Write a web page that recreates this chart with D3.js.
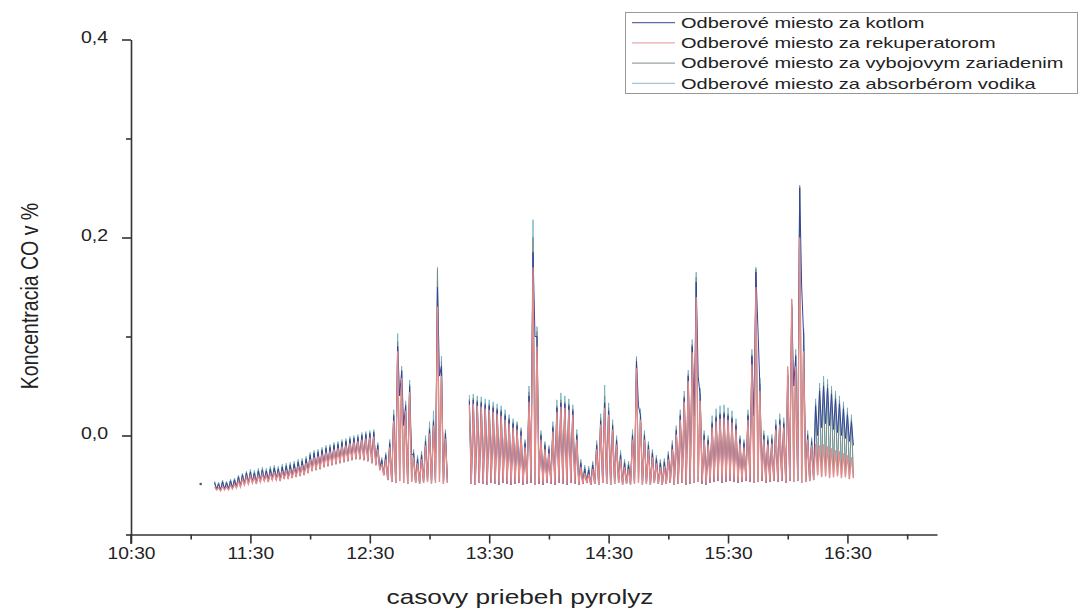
<!DOCTYPE html>
<html>
<head>
<meta charset="utf-8">
<script src="https://cdn.jsdelivr.net/npm/d3@7"></script>
<style>
  body { margin: 0; background: #fff; }
  svg { display: block; }
  text { font-family: "Liberation Sans", Arial, sans-serif; fill: #222; }
</style>
</head>
<body>
<div id="chart"></div>
<script>
// Sampling of the logger: one oscillation every 2 minutes, high value then low value
var sampleStart = "11:12";
var sampleStepMin = 2;

var seriesNames = [
    "Odberové miesto za kotlom",
    "Odberové miesto za rekuperatorom",
    "Odberové miesto za vybojovym zariadenim",
    "Odberové miesto za absorbérom vodika"
];

// Low readings between pulses (purge baseline), shared by the rekuperator, vyboj and absorber lines
var baselineLo = [
    -0.055,-0.056,-0.055,-0.055,-0.054,-0.053,-0.052,-0.050,-0.049,-0.048,
    -0.049,-0.047,-0.046,-0.047,-0.045,-0.045,-0.046,-0.044,-0.044,-0.043,
    -0.042,-0.041,-0.040,-0.038,-0.036,-0.035,-0.034,-0.032,-0.031,-0.030,
    -0.029,-0.028,-0.027,-0.026,-0.025,-0.024,-0.024,-0.025,-0.026,-0.028,-0.030,
    -0.035,-0.040,-0.045,-0.047,-0.048,-0.046,-0.048,-0.049,-0.047,-0.048,-0.049,-0.048,-0.047,-0.049,-0.048,-0.047,-0.049,-0.048,
    null,null,null,null,null,
    -0.049,-0.050,-0.048,-0.049,-0.050,-0.048,-0.049,-0.050,-0.048,-0.049,-0.050,-0.049,-0.048,-0.050,-0.049,
    -0.048,-0.050,-0.049,-0.050,-0.048,-0.049,-0.050,-0.048,-0.049,-0.050,-0.048,-0.049,
    -0.050,-0.049,-0.048,-0.050,-0.049,-0.050,-0.048,-0.049,-0.050,-0.049,-0.048,-0.050,-0.049,-0.050,
    -0.049,-0.048,-0.050,-0.049,-0.050,-0.048,-0.049,-0.050,-0.049,-0.048,-0.050,-0.049,-0.048,-0.050,-0.049,-0.048,-0.047,-0.049,-0.050,-0.048,
    -0.047,-0.046,-0.048,-0.047,-0.046,-0.047,-0.048,-0.047,-0.046,-0.047,-0.048,-0.047,-0.046,-0.048,-0.047,-0.046,-0.047,-0.046,-0.048,
    -0.046,-0.047,-0.046,-0.048,-0.047,-0.046,-0.045,
    -0.040,-0.042,-0.041,-0.043,-0.042,-0.041,-0.043,-0.042,-0.044,-0.043
];

// Odberové miesto za kotlom
var kotlomHi = [
    -0.048,-0.049,-0.047,-0.048,-0.046,-0.045,-0.042,-0.040,-0.038,-0.037,
    -0.038,-0.036,-0.035,-0.036,-0.034,-0.033,-0.034,-0.032,-0.031,-0.030,
    -0.029,-0.027,-0.026,-0.024,-0.020,-0.018,-0.017,-0.015,-0.013,-0.012,
    -0.010,-0.009,-0.007,-0.006,-0.004,-0.003,-0.002,0.000,0.001,0.002,0.003,
    -0.010,-0.025,-0.020,-0.008,0.020,0.090,0.065,0.030,0.050,-0.018,-0.024,-0.020,-0.006,0.006,0.014,0.150,0.070,0.002,
    null,null,null,null,null,
    0.035,0.036,0.034,0.033,0.031,0.030,0.028,0.026,0.024,0.020,0.016,0.012,0.010,0.004,-0.008,
    0.040,0.185,0.100,0.000,-0.010,-0.014,0.008,0.028,0.033,0.032,0.030,0.025,
    0.000,-0.028,-0.034,-0.035,-0.030,-0.010,0.015,0.033,0.025,0.010,-0.005,-0.020,-0.028,-0.030,
    0.000,0.075,0.020,0.000,-0.010,-0.018,-0.024,-0.028,-0.027,-0.020,-0.010,0.005,0.020,0.038,0.060,0.090,0.155,0.040,0.000,-0.005,
    0.012,0.018,0.021,0.022,0.020,0.017,0.010,-0.004,-0.008,0.020,0.080,0.165,0.050,0.000,-0.005,-0.004,0.010,0.015,0.012,
    0.060,0.130,0.080,0.250,0.100,0.000,-0.006,
    0.030,0.045,0.050,0.048,0.042,0.037,0.032,0.027,0.021,0.014
];
var kotlomLo = [
    -0.054,-0.055,-0.054,-0.054,-0.053,-0.052,-0.051,-0.049,-0.048,-0.047,
    -0.048,-0.046,-0.045,-0.046,-0.044,-0.044,-0.045,-0.043,-0.043,-0.042,
    -0.041,-0.040,-0.039,-0.037,-0.035,-0.034,-0.033,-0.031,-0.030,-0.029,
    -0.028,-0.027,-0.026,-0.025,-0.024,-0.023,-0.023,-0.024,-0.025,-0.027,-0.029,
    -0.034,-0.040,-0.045,-0.047,-0.048,0.040,0.010,-0.049,-0.020,-0.048,-0.049,-0.048,-0.047,-0.049,-0.048,0.060,-0.049,-0.048,
    null,null,null,null,null,
    -0.049,-0.050,-0.048,-0.049,-0.050,-0.048,-0.049,-0.050,-0.048,-0.049,-0.050,-0.049,-0.048,-0.050,-0.049,
    -0.048,0.100,-0.049,-0.050,-0.048,-0.049,-0.050,-0.048,-0.049,-0.050,-0.048,-0.049,
    -0.050,-0.049,-0.048,-0.050,-0.049,-0.050,-0.048,-0.049,-0.050,-0.049,-0.048,-0.050,-0.049,-0.050,
    -0.049,0.030,-0.050,-0.049,-0.050,-0.048,-0.049,-0.050,-0.049,-0.048,-0.050,-0.049,-0.048,-0.050,-0.049,0.020,0.060,-0.049,-0.050,-0.048,
    -0.047,-0.046,-0.048,-0.047,-0.046,-0.047,-0.048,-0.047,-0.046,-0.047,0.020,0.110,-0.046,-0.048,-0.047,-0.046,-0.047,-0.046,-0.048,
    -0.046,0.050,-0.046,0.150,-0.047,-0.046,-0.045,
    0.000,0.008,0.012,0.010,0.006,0.003,0.000,-0.003,-0.006,-0.010
];

// Odberové miesto za rekuperatorom
var rekupHi = [
    -0.052,-0.053,-0.051,-0.052,-0.050,-0.049,-0.046,-0.044,-0.042,-0.041,
    -0.042,-0.040,-0.039,-0.040,-0.038,-0.037,-0.038,-0.036,-0.035,-0.034,
    -0.033,-0.031,-0.030,-0.028,-0.024,-0.022,-0.021,-0.019,-0.017,-0.016,
    -0.014,-0.013,-0.011,-0.010,-0.008,-0.007,-0.006,-0.004,-0.003,-0.002,-0.001,
    -0.014,-0.029,-0.024,-0.012,0.015,0.085,0.058,0.025,0.044,-0.022,-0.028,-0.024,-0.010,0.002,0.010,0.130,0.060,-0.003,
    null,null,null,null,null,
    0.031,0.032,0.030,0.029,0.027,0.026,0.024,0.022,0.020,0.016,0.012,0.008,0.006,0.000,-0.012,
    0.034,0.170,0.090,-0.004,-0.014,-0.018,0.004,0.024,0.029,0.028,0.026,0.021,
    -0.004,-0.032,-0.038,-0.039,-0.034,-0.014,0.011,0.028,0.021,0.006,-0.009,-0.024,-0.032,-0.034,
    -0.004,0.068,0.016,-0.004,-0.014,-0.022,-0.028,-0.032,-0.031,-0.024,-0.014,0.001,0.016,0.034,0.055,0.084,0.140,0.035,-0.004,-0.009,
    0.008,0.014,0.017,0.018,0.016,0.013,0.006,-0.008,-0.012,0.016,0.072,0.150,0.045,-0.004,-0.009,-0.008,0.006,0.011,0.008,
    0.070,0.138,0.070,0.200,0.085,-0.004,-0.010,
    -0.008,-0.010,-0.009,-0.011,-0.013,-0.015,-0.016,-0.018,-0.020,-0.022
];

// Odberové miesto za vybojovym zariadenim
var vybojHi = [
    -0.047,-0.048,-0.046,-0.047,-0.045,-0.044,-0.041,-0.039,-0.037,-0.036,
    -0.037,-0.035,-0.034,-0.035,-0.033,-0.032,-0.033,-0.031,-0.030,-0.029,
    -0.028,-0.026,-0.025,-0.023,-0.019,-0.017,-0.016,-0.014,-0.012,-0.011,
    -0.009,-0.008,-0.006,-0.005,-0.003,-0.002,-0.001,0.001,0.002,0.003,0.004,
    -0.009,-0.024,-0.019,-0.006,0.022,0.095,0.066,0.032,0.052,-0.016,-0.022,-0.018,-0.004,0.008,0.016,0.168,0.075,0.004,
    null,null,null,null,null,
    0.037,0.038,0.036,0.035,0.033,0.032,0.030,0.028,0.026,0.022,0.018,0.014,0.012,0.006,-0.006,
    0.044,0.200,0.105,0.002,-0.008,-0.012,0.010,0.030,0.036,0.034,0.032,0.027,
    0.002,-0.026,-0.032,-0.033,-0.028,-0.008,0.018,0.040,0.028,0.012,-0.003,-0.018,-0.026,-0.028,
    0.002,0.078,0.022,0.002,-0.008,-0.016,-0.022,-0.026,-0.025,-0.018,-0.008,0.007,0.022,0.040,0.062,0.092,0.160,0.042,0.002,-0.003,
    0.014,0.020,0.023,0.024,0.022,0.019,0.012,-0.002,-0.006,0.022,0.082,0.168,0.052,0.002,-0.003,-0.002,0.012,0.017,0.014,
    0.062,0.133,0.082,0.252,0.104,0.002,-0.004,
    0.033,0.048,0.054,0.052,0.046,0.041,0.036,0.030,0.024,0.017
];

// Odberové miesto za absorbérom vodika
var absorbHi = [
    -0.046,-0.047,-0.045,-0.046,-0.044,-0.043,-0.040,-0.038,-0.036,-0.034,
    -0.035,-0.033,-0.032,-0.033,-0.031,-0.030,-0.031,-0.029,-0.028,-0.027,
    -0.026,-0.024,-0.023,-0.021,-0.017,-0.015,-0.014,-0.012,-0.010,-0.009,
    -0.007,-0.006,-0.004,-0.003,-0.001,0.000,0.001,0.003,0.004,0.005,0.006,
    -0.007,-0.022,-0.017,-0.004,0.026,0.103,0.070,0.035,0.056,-0.014,-0.020,-0.016,0.000,0.014,0.025,0.170,0.080,0.006,
    null,null,null,null,null,
    0.041,0.042,0.040,0.039,0.037,0.036,0.034,0.032,0.030,0.026,0.021,0.017,0.014,0.008,-0.004,
    0.050,0.218,0.110,0.005,-0.006,-0.010,0.014,0.036,0.043,0.040,0.037,0.031,
    0.006,-0.024,-0.030,-0.031,-0.026,-0.005,0.022,0.051,0.033,0.016,0.000,-0.015,-0.024,-0.026,
    0.006,0.080,0.027,0.005,-0.006,-0.014,-0.020,-0.024,-0.023,-0.016,-0.005,0.010,0.026,0.045,0.066,0.097,0.165,0.048,0.005,0.000,
    0.020,0.027,0.030,0.031,0.028,0.025,0.017,0.000,-0.004,0.026,0.087,0.170,0.058,0.005,0.000,0.001,0.016,0.022,0.018,
    0.066,0.137,0.087,0.253,0.108,0.005,-0.002,
    0.037,0.053,0.060,0.057,0.050,0.045,0.040,0.034,0.028,0.021
];

// single early reading before the logging started
var strayTimes = ["11:05"];
var strayValues = [-0.049];

var xTickLabels = ["10:30", "11:30", "12:30", "13:30", "14:30", "15:30", "16:30"];
var xMinorLabels = ["11:00", "12:00", "13:00", "14:00", "15:00", "16:00", "17:00"];
var yTickValues = [0.4, 0.2, 0.0];
var yMinorValues = [0.3, 0.1, -0.1];

var width = 1082,
    height = 610;

var parseTime = d3.timeParse("%H:%M");

var svg = d3.select("#chart")
    .append("svg")
    .attr("width", width)
    .attr("height", height);

// Scales
var xScale = d3.scaleTime()
    .domain([parseTime("10:30"), parseTime("17:15")])
    .range([131, 937]);

var yScale = d3.scaleLinear()
    .domain([-0.1, 0.4])
    .range([534.5, 39.5]);

// stretch text horizontally around its anchor (the original picture is widened)
function stretch(sel, sx) {
    sel.each(function () {
        var t = d3.select(this);
        var x = +t.attr("x") || 0;
        var tr = t.attr("transform") || "";
        t.attr("transform", tr + " translate(" + x + ",0) scale(" + sx + ",1) translate(" + (-x) + ",0)");
    });
}

// Build zigzag points: high value at the sample time, low value one minute later
function zigzag(hi, lo) {
    var t0 = parseTime(sampleStart);
    var pts = [];
    hi.forEach(function (h, i) {
        var t = d3.timeMinute.offset(t0, i * sampleStepMin);
        if (h == null) {
            pts.push({ t: t, v: null });
            return;
        }
        pts.push({ t: t, v: h });
        pts.push({ t: d3.timeMinute.offset(t, 1), v: lo[i] });
    });
    return pts;
}

var line = d3.line()
    .defined(function (d) { return d.v != null; })
    .x(function (d) { return xScale(d.t); })
    .y(function (d) { return yScale(d.v); });

var series = [
    { name: seriesNames[0], hi: kotlomHi, lo: kotlomLo, color: "#34449a", legendColor: "#5d6aa6", width: 1 },
    { name: seriesNames[1], hi: rekupHi, lo: baselineLo, color: "#e78a8a", legendColor: "#eaa8a8", width: 1.3 },
    { name: seriesNames[2], hi: vybojHi, lo: baselineLo, color: "#7c8a84", legendColor: "#9aa49f", width: 0.9 },
    { name: seriesNames[3], hi: absorbHi, lo: baselineLo, color: "#6fb3c3", legendColor: "#a9c3d8", width: 0.9 }
];

// drawing order: absorber, vybojove, kotol, rekuperator on top
var drawOrder = [3, 2, 0, 1];
var g = svg.append("g");
drawOrder.forEach(function (k) {
    var s = series[k];
    g.append("path")
        .datum(zigzag(s.hi, s.lo))
        .attr("d", line)
        .attr("fill", "none")
        .attr("stroke", s.color)
        .attr("stroke-width", s.width);
});

g.selectAll("circle.stray")
    .data(strayTimes)
    .enter()
    .append("circle")
    .attr("class", "stray")
    .attr("cx", function (d) { return xScale(parseTime(d)); })
    .attr("cy", function (d, i) { return yScale(strayValues[i]); })
    .attr("r", 1.3)
    .attr("fill", "#555");

// Axes
var axisColor = "#333";

var yAxis = svg.append("g")
    .attr("transform", "translate(131,0)")
    .call(d3.axisLeft(yScale)
        .tickValues(yTickValues)
        .tickSize(9)
        .tickSizeOuter(0)
        .tickPadding(14)
        .tickFormat(function (d) { return d3.format(".1f")(d).replace(".", ","); }));

var yMinor = svg.append("g")
    .attr("transform", "translate(131,0)")
    .call(d3.axisLeft(yScale)
        .tickValues(yMinorValues)
        .tickSize(5)
        .tickFormat(""));
yMinor.select(".domain").remove();

var xAxis = svg.append("g")
    .attr("transform", "translate(0,534.5)")
    .call(d3.axisBottom(xScale)
        .tickValues(xTickLabels.map(parseTime))
        .tickSize(9)
        .tickSizeOuter(0)
        .tickPadding(3)
        .tickFormat(d3.timeFormat("%H:%M")));

var xMinor = svg.append("g")
    .attr("transform", "translate(0,534.5)")
    .call(d3.axisBottom(xScale)
        .tickValues(xMinorLabels.map(parseTime))
        .tickSize(5)
        .tickFormat(""));
xMinor.select(".domain").remove();

// y axis runs a little below the x axis at the corner
svg.append("line")
    .attr("x1", 131).attr("x2", 131)
    .attr("y1", 534.5).attr("y2", 544)
    .attr("stroke", axisColor)
    .attr("stroke-width", 1.6);

svg.selectAll(".domain, .tick line")
    .attr("stroke", axisColor)
    .attr("stroke-width", 1.6);

yAxis.selectAll(".tick text")
    .attr("font-size", 16)
    .attr("fill", "#222")
    .attr("y", -2)
    .call(stretch, 1.22);

xAxis.selectAll(".tick text")
    .attr("font-size", 17)
    .attr("fill", "#222")
    .call(stretch, 1.13);

// Axis titles
svg.append("text")
    .attr("x", 520)
    .attr("y", 604)
    .attr("text-anchor", "middle")
    .attr("font-size", 21)
    .text("casovy priebeh pyrolyz")
    .call(stretch, 1.25);

svg.append("text")
    .attr("transform", "translate(38,296) rotate(-90) scale(1,1.25)")
    .attr("text-anchor", "middle")
    .attr("font-size", 19.5)
    .text("Koncentracia CO v %");

// Legend
var legend = svg.append("g");

legend.append("rect")
    .attr("x", 625.5)
    .attr("y", 12.5)
    .attr("width", 452)
    .attr("height", 81)
    .attr("fill", "#fff")
    .attr("stroke", "#999")
    .attr("stroke-width", 1);

var legendRows = legend.selectAll("g.row")
    .data(series)
    .enter()
    .append("g")
    .attr("class", "row")
    .attr("transform", function (d, i) { return "translate(0," + (22.7 + i * 20.2) + ")"; });

legendRows.append("line")
    .attr("x1", 632)
    .attr("x2", 675)
    .attr("stroke", function (d) { return d.legendColor; })
    .attr("stroke-width", 1.2);

legendRows.append("text")
    .attr("x", 681)
    .attr("dy", "0.36em")
    .attr("font-size", 14.5)
    .text(function (d) { return d.name; })
    .call(stretch, 1.38);
</script>
</body>
</html>
